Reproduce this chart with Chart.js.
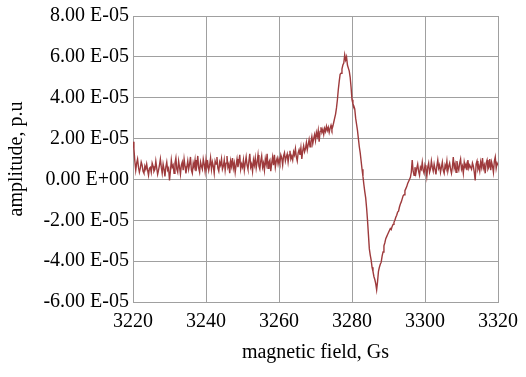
<!DOCTYPE html>
<html>
<head>
<meta charset="utf-8">
<script src="https://cdn.jsdelivr.net/npm/chart.js@4/dist/chart.umd.min.js"></script>
<style>
    html, body { margin: 0; padding: 0; background: #fff; }
    #wrap { width: 526px; height: 377px; }
</style>
</head>
<body>
<div id="wrap"><canvas id="myChart" width="526" height="377"></canvas></div>
<script>
'use strict';

// sweep of the field, Gs
var fieldStart = 3220;
var fieldStep = 0.25;

// signal, in units of 1e-5 (one row = 5 Gs)
var amplitude = [
    1.85, 1.5, 0.9, 0.45, 0.8, 1.0, 0.6, 0.35, 0.55, 0.85, 0.7, 0.4, 0.3, 0.65, 0.5, 0.75, 0.45, 0.2, 0.55, 0.6,
    0.35, 0.8, 0.65, 0.4, 0.5, 0.9, 0.55, 0.25, 0.45, 0.7, 1.0, 0.6, 0.3, 0.75, 0.5, 0.15, 0.6, 0.85, 0.45, 0.55,
    -0.05, 0.4, 0.95, 0.6, 0.7, 0.3, 0.8, 1.05, 0.5, 0.35, 0.9, 0.6, 0.25, 0.7, 0.85, 0.45, 1.0, 0.65, 0.3, 0.6,
    0.9, 0.5, 0.75, 1.1, 0.45, 0.3, 0.8, 0.6, 0.95, 0.4, 0.7, 1.15, 0.55, 0.35, 0.85, 0.65, 0.5, 1.0, 0.75, 0.4,
    0.95, 0.6, 0.8, 0.45, 0.7, 1.05, 0.5, 0.85, 0.65, 0.3, 0.9, 0.75, 1.1, 0.55, 0.4, 0.85, 0.7, 1.0, 0.5, 0.65,
    0.95, 0.45, 0.8, 1.15, 0.6, 0.75, 0.3, 0.9, 0.65, 1.05, 0.55, 0.8, 0.35, 0.7, 1.0, 0.6, 0.85, 1.2, 0.5, 0.75,
    0.6, 0.95, 0.45, 0.8, 1.1, 0.7, 0.5, 0.9, 1.25, 0.6, 0.75, 0.4, 0.95, 0.7, 1.05, 0.55, 0.85, 1.2, 0.65, 0.5,
    0.9, 1.15, 0.6, 0.8, 0.45, 1.0, 0.75, 1.25, 0.55, 0.85, 0.95, 0.4, 0.8, 1.1, 0.7, 1.2, 0.6, 0.9, 1.05, 0.75,
    1.0, 0.8, 1.2, 1.05, 0.7, 1.15, 1.3, 0.9, 1.1, 1.25, 0.85, 1.2, 1.4, 1.0, 1.15, 0.95, 1.35, 1.2, 1.5, 1.1,
    0.9, 1.3, 1.45, 1.2, 1.55, 1.0, 1.4, 1.65, 1.35, 1.5, 1.8, 1.45, 1.7, 1.95, 1.6, 1.85, 2.1, 1.75, 2.0, 2.2,
    1.9, 2.3, 2.1, 2.4, 1.85, 2.35, 2.55, 2.3, 2.45, 2.2, 2.5, 2.35, 2.6, 2.4, 2.55, 2.3, 2.5, 2.65, 2.45, 2.6,
    2.8, 3.0, 3.2, 3.5, 3.9, 4.4, 4.8, 5.15, 5.2, 5.4, 5.6, 5.7, 6.1, 5.85, 6.0, 5.6, 5.45, 5.3, 5.0, 4.5,
    3.9, 3.7, 3.6, 3.45, 3.0, 2.7, 2.4, 2.0, 1.6, 1.3, 0.9, 0.5, 0.15, -0.25, -0.6, -0.9, -1.4, -2.0, -2.7, -3.4,
    -3.7, -3.95, -4.3, -4.5, -4.75, -4.9, -5.1, -5.4, -5.0, -4.5, -4.3, -4.15, -4.05, -3.75, -3.55, -3.25, -3.1, -2.9, -2.8, -2.7,
    -2.6, -2.5, -2.4, -2.45, -2.3, -2.2, -2.1, -2.0, -1.85, -1.75, -1.6, -1.55, -1.35, -1.2, -1.1, -0.95, -0.8, -0.75, -0.55, -0.45,
    -0.35, -0.2, -0.1, 0.0, 0.1, 0.35, 0.95, 0.4, 0.2, 0.6, 0.3, 0.55, 0.75, 0.4, 0.2, 0.6, 0.5, 0.85, 0.45, 0.3,
    0.7, 0.55, 0.15, 0.6, 0.8, 0.35, 0.5, 0.9, 0.6, 0.4, 0.75, 0.5, 0.25, 0.65, 0.95, 0.55, 0.7, 0.35, 0.6, 0.85,
    0.45, 0.3, 0.7, 0.55, 0.9, 0.4, 0.65, 0.8, 0.5, 0.3, 0.6, 1.1, 0.55, 0.75, 0.35, 0.9, 0.6, 0.45, 0.8, 1.0,
    0.5, 0.65, 0.3, 0.85, 0.6, 0.75, 0.45, 0.95, 0.55, 0.7, 0.6, 0.5, 0.8, 0.65, 0.35, -0.05, 0.75, 0.9, 0.5, 0.65,
    0.4, 0.85, 0.6, 1.05, 0.55, 0.7, 0.3, 0.8, 0.95, 0.5, 0.6, 1.0, 0.45, 0.85, 0.65, 0.35, 0.9, 1.1, 0.55, 0.8,
    0.7
];

var xMin = 3220, xMax = 3320, xStep = 20;
var yMin = -6e-5, yMax = 8e-5, yStep = 2e-5;

var points = amplitude.map(function(v, i) {
    return {x: fieldStart + i * fieldStep, y: v * 1e-5};
});

// "6.00 E-05" style labels
function sciLabel(value) {
    if (Math.abs(value) < 1e-12) {
        return '0.00 E+00';
    }
    var exp = Math.floor(Math.log10(Math.abs(value)) + 1e-9);
    var mant = value / Math.pow(10, exp);
    var sign = exp < 0 ? '-' : '+';
    var e = Math.abs(exp);
    return mant.toFixed(2) + ' E' + sign + (e < 10 ? '0' + e : e);
}

var font = {family: '"Liberation Serif", "Times New Roman", serif', size: 20};
var gridColor = '#a0a0a0';

var ctx = document.getElementById('myChart').getContext('2d');
var chart = new Chart(ctx, {
    type: 'line',
    data: {
        datasets: [{
            data: points,
            borderColor: '#9e3a3c',
            borderWidth: 1.4,
            pointRadius: 0,
            tension: 0,
            fill: false
        }]
    },
    options: {
        responsive: false,
        animation: false,
        layout: {padding: {top: 15, right: 27, bottom: 0, left: 0}},
        plugins: {
            legend: {display: false},
            tooltip: {enabled: false}
        },
        scales: {
            x: {
                type: 'linear',
                min: xMin,
                max: xMax,
                ticks: {stepSize: xStep, color: '#000', font: font, padding: 8, maxRotation: 0,
                        callback: function(v) { return String(v); }},
                grid: {color: gridColor, drawTicks: false},
                border: {color: gridColor},
                title: {display: true, text: 'magnetic field, Gs', color: '#000', font: font,
                        padding: {top: 4, bottom: 12}},
                afterFit: function(scale) { scale.height = 75; }
            },
            y: {
                min: yMin,
                max: yMax,
                ticks: {stepSize: yStep, color: '#000', font: font, padding: 4,
                        callback: function(v) { return sciLabel(v); }},
                grid: {color: gridColor, drawTicks: false},
                border: {color: gridColor},
                title: {display: true, text: 'amplitude, p.u', color: '#000', font: font,
                        padding: {top: 5, bottom: 0}},
                afterFit: function(scale) { scale.width = 133; }
            }
        }
    }
});
</script>
</body>
</html>
